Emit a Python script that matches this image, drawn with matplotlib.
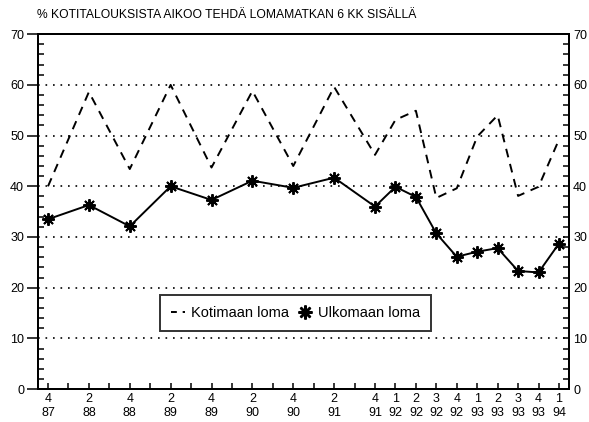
import numpy as np
import matplotlib
matplotlib.use('Agg')
from matplotlib import pyplot as plt
from matplotlib.lines import Line2D

plt.rcParams['font.family'] = ['Liberation Sans', 'DejaVu Sans']

# quarters with data (quarter/year)
quarters = ['4/87', '2/88', '4/88', '2/89', '4/89', '2/90', '4/90', '2/91',
            '4/91', '1/92', '2/92', '3/92', '4/92', '1/93', '2/93', '3/93',
            '4/93', '1/94']
kotimaan = [40.0, 58.6, 43.4, 60.0, 43.7, 58.8, 44.0, 59.6,
            46.2, 53.1, 54.9, 37.7, 39.6, 49.8, 54.0, 38.1, 39.9, 49.2]
ulkomaan = [33.5, 36.3, 32.1, 40.0, 37.3, 41.1, 39.7, 41.7,
            36.0, 39.9, 37.9, 30.7, 26.1, 27.1, 27.8, 23.3, 23.0, 28.7]


def quarter_index(label):
    # running quarter number counted from 4/87
    q, y = label.split('/')
    return (int(y) - 87) * 4 + int(q) - 4


x = np.array([quarter_index(q) for q in quarters])
n_quarters = x.max() + 1

fig = plt.figure(figsize=(5.89, 4.22), dpi=100)
ax = fig.add_axes([0.0645, 0.078, 0.9015, 0.841])

ax.plot(x, kotimaan, color='black', linewidth=1.4, dashes=(4.5, 3.5))
ax.plot(x, ulkomaan, color='black', linewidth=1.4, marker=(8, 2, 0),
        markersize=9, markeredgewidth=1.4)

ax.set_xlim(-0.49, n_quarters - 1 + 0.49)
ax.set_ylim(0, 70)

# x axis: a tick every quarter, labels only where data exists
ax.set_xticks(np.arange(n_quarters))
labels = [''] * n_quarters
for q, xi in zip(quarters, x):
    qq, yy = q.split('/')
    labels[xi] = qq + '\n' + yy
ax.set_xticklabels(labels, fontsize=9, linespacing=1.2)
ax.tick_params(axis='x', direction='in', length=4, width=1.1, pad=3)

# y axis left
ax.set_yticks(np.arange(0, 71, 10))
ax.set_yticks(np.arange(0, 71, 2), minor=True)
ax.tick_params(axis='y', which='major', direction='out', length=8,
               width=1.1, labelsize=9, pad=2)
ax.tick_params(axis='y', which='minor', direction='in', length=4, width=1.1)

# y axis right
ax2 = ax.twinx()
ax2.set_ylim(0, 70)
ax2.set_yticks(np.arange(0, 71, 10))
ax2.set_yticks(np.arange(0, 71, 2), minor=True)
ax2.tick_params(axis='y', which='major', direction='in', length=4,
                width=1.1, labelsize=9, pad=3)
ax2.tick_params(axis='y', which='minor', direction='in', length=4, width=1.1)

for a in (ax, ax2):
    for s in a.spines.values():
        s.set_linewidth(1.4)

# dotted horizontal grid
for v in range(10, 70, 10):
    ax.axhline(v, color='black', linewidth=1.2, linestyle=(0, (1, 3.5)),
               zorder=0)

handles = [Line2D([], [], color='black', linewidth=1.4, dashes=(3, 3)),
           Line2D([], [], color='black', linestyle='none', marker=(8, 2, 0),
                  markersize=10, markeredgewidth=1.8)]
leg = ax.legend(handles, ['Kotimaan loma', 'Ulkomaan loma'], loc='center',
                bbox_to_anchor=(0.485, 0.214), ncol=2, fontsize=10.5,
                frameon=True, fancybox=False, handlelength=1.0,
                handletextpad=0.4, columnspacing=0.6, borderpad=0.75)
leg.get_frame().set_edgecolor('black')
leg.get_frame().set_linewidth(1.4)

fig.text(0.063, 0.965, '% KOTITALOUKSISTA AIKOO TEHDÄ LOMAMATKAN 6 KK SISÄLLÄ',
         fontsize=8.7, ha='left', va='center')

fig.savefig('out.png', dpi=100)
